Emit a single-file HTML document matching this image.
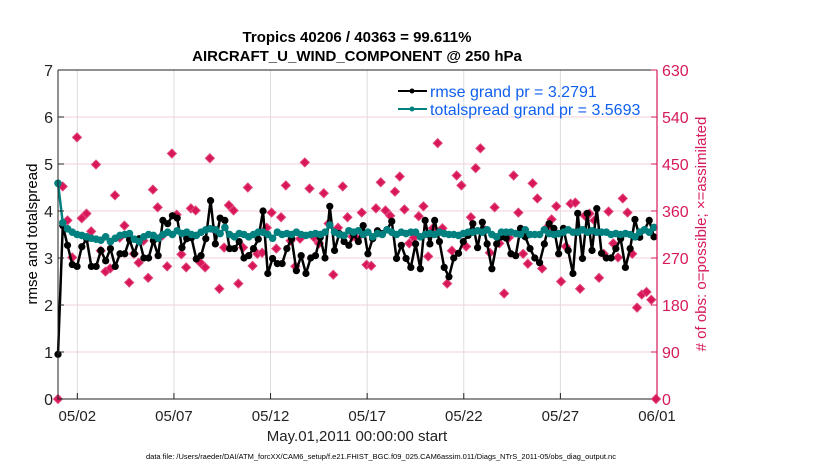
<!DOCTYPE html>
<html><head><meta charset="utf-8"><style>
body{margin:0;background:#fff;}
svg{display:block;font-family:"Liberation Sans",sans-serif;}
</style></head><body>
<svg id="chart" width="830" height="470" viewBox="0 0 830 470" xmlns="http://www.w3.org/2000/svg">
<rect width="830" height="470" fill="#fff"/>
<g id="grid"></g>
<g id="obs"></g>
<g id="lines"></g>
<g id="axes"></g>
<text x="357" y="42" text-anchor="middle" font-size="15" font-weight="bold">Tropics 40206 / 40363 = 99.611%</text>
<text x="357" y="61" text-anchor="middle" font-size="15" font-weight="bold">AIRCRAFT_U_WIND_COMPONENT @ 250 hPa</text>
<text transform="translate(37,234) rotate(-90)" text-anchor="middle" font-size="15">rmse and totalspread</text>
<text transform="translate(706,234) rotate(-90)" text-anchor="middle" font-size="15" fill="#d6195c"># of obs: o=possible; ×=assimilated</text>
<text x="357" y="441" text-anchor="middle" font-size="15" fill="#222">May.01,2011 00:00:00 start</text>
<text x="146" y="459" font-size="7.5" fill="#000">data file: /Users/raeder/DAI/ATM_forcXX/CAM6_setup/f.e21.FHIST_BGC.f09_025.CAM6assim.011/Diags_NTrS_2011-05/obs_diag_output.nc</text>
<g>
<line x1="398" y1="91" x2="427" y2="91" stroke="#000" stroke-width="2"/><circle cx="412" cy="91" r="2.5" fill="#000"/>
<text x="430" y="97" font-size="16" fill="#1060f0">rmse grand pr = 3.2791</text>
<line x1="398" y1="109" x2="427" y2="109" stroke="#00807f" stroke-width="2"/><circle cx="412" cy="109" r="2.5" fill="#00807f"/>
<text x="430" y="115" font-size="16" fill="#1060f0">totalspread grand pr = 3.5693</text>
</g>
</svg>
<script>
const rmse=[0.95,3.69,3.27,2.86,2.82,3.24,3.41,2.82,2.82,3.16,2.94,3.2,2.82,3.09,3.09,3.39,3.09,3.41,3.0,3.0,3.37,3.05,3.8,3.73,3.9,3.85,3.22,3.41,3.43,2.98,3.05,3.41,4.22,3.3,3.85,3.8,3.2,3.2,3.35,3.0,3.05,3.2,3.4,
4.0,2.67,2.99,2.88,2.88,3.2,3.41,2.73,3.05,2.67,3.0,3.05,3.44,3.0,4.1,3.16,3.52,3.35,3.27,3.5,3.35,3.69,3.09,3.41,3.58,3.52,3.6,3.78,2.99,3.27,2.99,2.8,3.3,2.77,3.8,3.3,3.8,3.35,2.8,2.6,3.0,3.1,3.35,3.48,
3.73,3.22,3.76,3.3,2.77,3.3,3.45,3.42,3.09,3.05,3.63,3.45,3.2,3.0,2.9,3.3,3.73,3.63,3.09,3.63,3.16,2.67,3.95,2.99,3.95,3.16,4.05,3.1,3.0,3.0,3.2,3.41,2.8,3.2,3.82,3.44,3.6,3.8,3.45];
const spread=[4.59,3.75,3.62,3.55,3.5,3.48,3.45,3.42,3.4,3.38,3.45,3.35,3.42,3.48,3.5,3.52,3.4,3.35,3.45,3.5,3.48,3.42,3.5,3.55,3.5,3.58,3.52,3.55,3.5,3.48,3.55,3.6,3.62,3.6,3.52,3.65,3.5,3.45,3.52,3.5,3.45,3.5,3.55,
3.55,3.5,3.42,3.55,3.5,3.52,3.5,3.55,3.5,3.48,3.5,3.52,3.5,3.55,3.7,3.55,3.5,3.48,3.58,3.55,3.58,3.5,3.55,3.45,3.52,3.5,3.6,3.55,3.5,3.55,3.52,3.55,3.55,3.45,3.5,3.52,3.5,3.55,3.52,3.5,3.5,3.48,3.52,3.55,
3.55,3.58,3.55,3.6,3.5,3.45,3.55,3.55,3.55,3.52,3.5,3.6,3.5,3.5,3.5,3.6,3.52,3.5,3.52,3.55,3.6,3.55,3.55,3.6,3.55,3.58,3.55,3.55,3.55,3.5,3.52,3.5,3.52,3.5,3.45,3.55,3.6,3.55,3.65];
const obsCount=[0,407,342,271,501,346,355,321,449,284,244,250,390,309,332,223,278,261,303,232,401,367,313,254,470,353,277,252,365,361,261,252,461,323,211,290,371,361,221,290,405,255,278,
280,328,357,288,348,409,303,254,307,453,403,309,298,394,336,238,328,407,348,311,307,357,257,255,365,415,361,351,397,426,363,298,309,350,369,273,327,490,327,221,284,428,409,292,
348,442,480,323,280,367,298,202,309,428,357,278,259,413,384,250,328,344,369,225,292,374,376,211,351,355,342,232,278,359,298,271,384,357,278,175,200,205,190,0];
const dateLabels=["05/02","05/07","05/12","05/17","05/22","05/27","06/01"];
const dateDays=[1,6,11,16,21,26,31];
const leftTicks=[0,1,2,3,4,5,6,7];
const rightTicks=[0,90,180,270,360,450,540,630];

const NS="http://www.w3.org/2000/svg";
const L=58,R=657,T=70,B=399;
function xDay(d){return L+d*(R-L)/31;}
function xIdx(i,n){return L+i*(R-3-L)/(n-1);}
function xObs(i,n){return L+i*(R-1-L)/(n-1);}
function yL(v){return B-v*(B-T)/7;}
function yR(v){return B-v*(B-T)/630;}
function mk(tag,attrs,parent){const e=document.createElementNS(NS,tag);for(const k in attrs)e.setAttribute(k,attrs[k]);parent.appendChild(e);return e;}
const grid=document.getElementById('grid'),axes=document.getElementById('axes'),obsG=document.getElementById('obs'),linesG=document.getElementById('lines');

rightTicks.forEach(v=>{const g=mk('line',{x1:L,x2:R,y1:yR(v),y2:yR(v),stroke:'#f3cfdc','stroke-width':1},grid);

});
dateDays.forEach((d,i)=>{const g=mk('line',{x1:xDay(d),x2:xDay(d),y1:T,y2:B,stroke:'#dcdcdc','stroke-width':1},grid);


const tk=mk('line',{x1:xDay(d),x2:xDay(d),y1:B,y2:B-6,stroke:'#222'},axes);


const t=mk('text',{x:xDay(d),y:B+22,'text-anchor':'middle','font-size':15,fill:'#222'},axes);t.textContent=dateLabels[i];

});

const fr=mk('path',{d:`M${L},${T}H${R}M${L},${T}V${B}H${R}`,stroke:'#222',fill:'none','stroke-width':1},axes);


const ra=mk('line',{x1:R,x2:R,y1:T,y2:B,stroke:'#d6195c','stroke-width':1.2},axes);


leftTicks.forEach(v=>{const tk=mk('line',{x1:L,x2:L+6,y1:yL(v),y2:yL(v),stroke:'#222'},axes);


const t=mk('text',{x:L-5,y:yL(v)+6,'text-anchor':'end','font-size':16,fill:'#222'},axes);t.textContent=v;

});
rightTicks.forEach(v=>{const tk=mk('line',{x1:R-6,x2:R,y1:yR(v),y2:yR(v),stroke:'#d6195c'},axes);


const t=mk('text',{x:R+5,y:yR(v)+6,'font-size':16,fill:'#d6195c'},axes);t.textContent=v;

});

obsCount.forEach((v,i)=>{const x=xObs(i,obsCount.length),y=yR(v);
const m=mk('path',{d:`M${x},${y-4.5}L${x+4.5},${y}L${x},${y+4.5}L${x-4.5},${y}Z`,fill:'#d8175a',stroke:'#e0457a','stroke-width':1},obsG);

});

function series(arr,color,name,r){
const pts=arr.map((v,i)=>xIdx(i,arr.length)+','+yL(v)).join(' ');
const pl=mk('polyline',{points:pts,fill:'none',stroke:color,'stroke-width':2.5,'stroke-linejoin':'round'},linesG);


arr.forEach((v,i)=>{const c=mk('circle',{cx:xIdx(i,arr.length),cy:yL(v),r:r,fill:color},linesG);

});}
series(rmse,'#000','rmse',3.6);
series(spread,'#00807f','totalspread',3.8);
</script>
</body></html>
